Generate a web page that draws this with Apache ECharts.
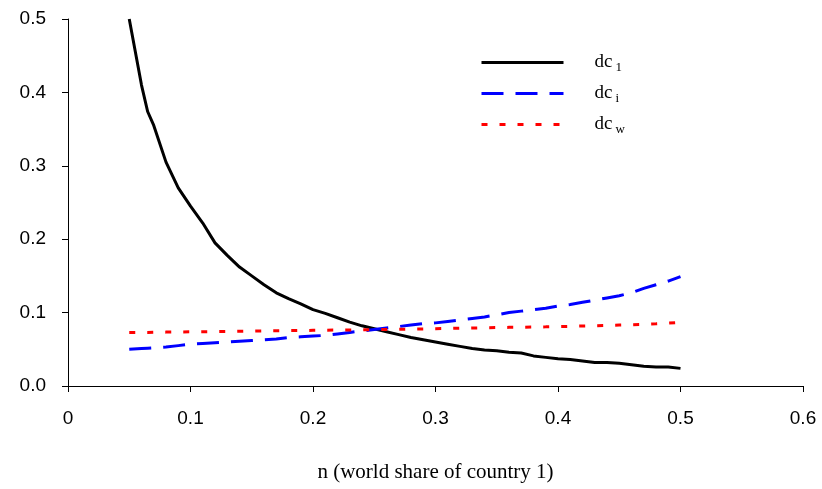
<!DOCTYPE html>
<html>
<head>
<meta charset="utf-8">
<script src="https://cdn.jsdelivr.net/npm/echarts@6/dist/echarts.min.js"></script>
<style>html,body{margin:0;padding:0;background:#fff}#c{width:822px;height:489px}</style>
</head>
<body>
<div id="c"></div>
<script>
const nValues = [0.05,0.06,0.065,0.07,0.08,0.09,0.10,0.11,0.12,0.13,0.14,0.15,0.16,0.17,0.18,0.19,0.20,0.21,0.22,0.23,0.24,0.25,0.26,0.27,0.28,0.29,0.30,0.31,0.32,0.33,0.34,0.35,0.36,0.37,0.38,0.39,0.40,0.41,0.42,0.43,0.44,0.45,0.46,0.47,0.48,0.49,0.50];
const dc1 = [0.500,0.410,0.374,0.355,0.305,0.270,0.245,0.222,0.195,0.178,0.162,0.150,0.138,0.127,0.119,0.112,0.104,0.099,0.093,0.087,0.082,0.078,0.074,0.070,0.066,0.063,0.060,0.057,0.054,0.051,0.049,0.048,0.046,0.045,0.041,0.039,0.037,0.036,0.034,0.032,0.032,0.031,0.029,0.027,0.026,0.026,0.024];
const dci = [0.050,0.051,0.0515,0.052,0.053,0.055,0.057,0.058,0.059,0.060,0.061,0.062,0.063,0.064,0.066,0.067,0.068,0.069,0.071,0.073,0.075,0.077,0.079,0.081,0.083,0.085,0.086,0.088,0.090,0.092,0.094,0.097,0.100,0.102,0.104,0.106,0.109,0.111,0.114,0.117,0.120,0.123,0.127,0.133,0.138,0.143,0.149];
const dcw = [0.073,0.073,0.073,0.0732,0.0734,0.0736,0.0738,0.074,0.0742,0.0744,0.0746,0.0748,0.075,0.0752,0.0754,0.0756,0.0758,0.076,0.0762,0.0764,0.0766,0.0768,0.077,0.0772,0.0775,0.0778,0.0781,0.0784,0.0787,0.079,0.0793,0.0796,0.0799,0.080,0.0803,0.0806,0.081,0.0813,0.0817,0.082,0.0825,0.083,0.0835,0.084,0.0848,0.0857,0.0868];
const xTicks = ['0','0.1','0.2','0.3','0.4','0.5','0.6'];
const yTicks = ['0.0','0.1','0.2','0.3','0.4','0.5'];
const seriesNames = ['dc1','dci','dcw'];
const subs = {dc1:'1', dci:'i', dcw:'w'};

const pairs = arr => nValues.map((n,i)=>[n,arr[i]]);
const chart = echarts.init(document.getElementById('c'));
const axisFont = {fontFamily:'Liberation Sans', fontSize:19, color:'#000'};
chart.setOption({
  animation:false,
  backgroundColor:'#fff',
  grid:{left:68, right:19, top:19, bottom:103},
  legend:{
    orient:'vertical', left:475, top:48, itemWidth:82, itemHeight:16, itemGap:10,
    data:seriesNames,
    itemStyle:{opacity:0},
    lineStyle:{width:3},
    formatter: name => '{a|dc}{s|' + subs[name] + '}',
    textStyle:{
      color:'#000',
      rich:{
        a:{fontFamily:'Liberation Serif', fontSize:19, color:'#000', padding:[0,0,0,26], height:24},
        s:{fontFamily:'Liberation Serif', fontSize:13, color:'#000', padding:[10,0,0,3], height:24}
      }
    }
  },
  xAxis:{
    type:'value', min:0, max:0.6, interval:0.1,
    name:'n (world share of country 1)', nameLocation:'middle', nameGap:76,
    nameTextStyle:{fontFamily:'Liberation Serif', fontSize:21, color:'#000'},
    axisLine:{lineStyle:{color:'#000', width:1}},
    axisTick:{show:true, inside:false, length:6, lineStyle:{color:'#000'}},
    splitLine:{show:false},
    axisLabel:{...axisFont, margin:23, formatter:(v)=>xTicks[Math.round(v*10)]}
  },
  yAxis:{
    type:'value', min:0, max:0.5, interval:0.1,
    axisLine:{show:true, lineStyle:{color:'#000', width:1}},
    axisTick:{show:true, inside:false, length:6, lineStyle:{color:'#000'}},
    splitLine:{show:false},
    axisLabel:{...axisFont, margin:22, formatter:(v)=>yTicks[Math.round(v*10)]}
  },
  series:[
    {name:'dc1', type:'line', data:pairs(dc1), symbol:'none', lineStyle:{color:'#000', width:3, type:'solid'}, itemStyle:{color:'#000'}},
    {name:'dci', type:'line', data:pairs(dci), symbol:'none', lineStyle:{color:'#0000ff', width:3, type:[22,12]}, itemStyle:{color:'#0000ff'}},
    {name:'dcw', type:'line', data:pairs(dcw), symbol:'none', lineStyle:{color:'#ff0000', width:3, type:[6,12]}, itemStyle:{color:'#ff0000'}}
  ]
});
</script>
</body>
</html>
